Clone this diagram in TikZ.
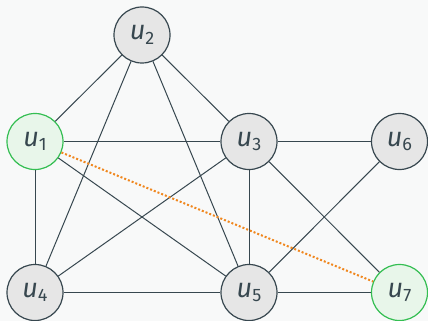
\documentclass[tikz,border=0pt]{standalone}
\usepackage{fontspec}
\setmainfont{Fira Sans}
\usepackage{tikz}
\usetikzlibrary{shapes, arrows, positioning}
\definecolor{bgcol}{RGB}{248, 249, 249}
\definecolor{edgecol}{RGB}{55, 71, 79}
\definecolor{nodefill}{RGB}{230, 230, 230}
\definecolor{mygreen}{RGB}{52, 190, 82}
\definecolor{greenfill}{RGB}{232, 246, 234}
\definecolor{myorange}{RGB}{240, 135, 30}
\newcommand{\ulabel}[1]{\textit{u}\raisebox{-0.3ex}{\fontsize{18}{21}\selectfont #1}}
\tikzset{
  vert/.style={draw=edgecol, line width=1.2pt, circle, fill=nodefill, minimum size=56pt, inner sep=0pt, text=edgecol, font=\fontsize{27}{31}\selectfont},
  endvert/.style={vert, draw=mygreen, fill=greenfill},
  link/.style={draw=edgecol, line width=1pt},
  hint/.style={draw=myorange, line width=2pt, dotted}
}

\begin{document}
\begin{tikzpicture}[x=1pt, y=-1pt]
\fill[bgcol] (0,0) rectangle (428,321);
\useasboundingbox (0,0) rectangle (428,321);
% vertices
\node[vert] (u2) at (142,35) {\ulabel{2}};
\node[endvert] (u1) at (35,141.5) {\ulabel{1}};
\node[vert] (u3) at (249,141.5) {\ulabel{3}};
\node[vert] (u6) at (399.5,141.5) {\ulabel{6}};
\node[vert] (u4) at (35,292.5) {\ulabel{4}};
\node[vert] (u5) at (249,292.5) {\ulabel{5}};
\node[endvert] (u7) at (399.5,292.5) {\ulabel{7}};
% edges
\draw[link] (u1) -- (u2);
\draw[link] (u2) -- (u3);
\draw[link] (u2) -- (u4);
\draw[link] (u2) -- (u5);
\draw[link] (u1) -- (u3);
\draw[link] (u1) -- (u4);
\draw[link] (u1) -- (u5);
\draw[link] (u3) -- (u4);
\draw[link] (u3) -- (u5);
\draw[link] (u3) -- (u6);
\draw[link] (u3) -- (u7);
\draw[link] (u4) -- (u5);
\draw[link] (u5) -- (u6);
\draw[link] (u5) -- (u7);
\draw[hint] (u1) -- (u7);
\end{tikzpicture}
\end{document}
